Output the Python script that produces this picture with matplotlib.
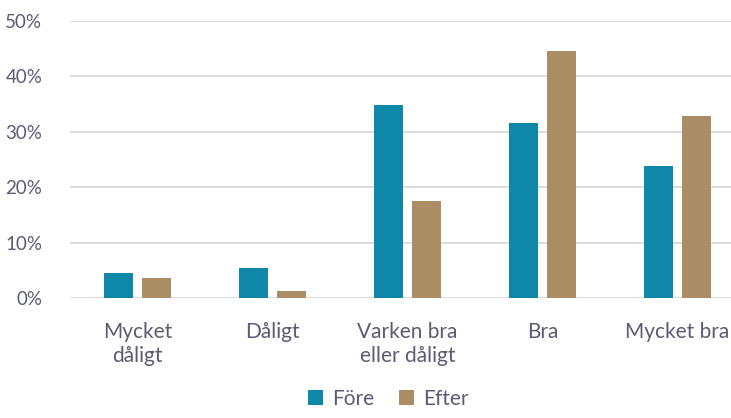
import numpy as np
import matplotlib
matplotlib.use('Agg')
from matplotlib import pyplot as plt
from matplotlib.ticker import PercentFormatter

# data
categories = ['Mycket\ndåligt', 'Dåligt', 'Varken bra\neller dåligt', 'Bra', 'Mycket bra']
fore = [4.6, 5.5, 34.9, 31.5, 23.8]
efter = [3.6, 1.2, 17.5, 44.5, 32.9]
series_names = ['Före', 'Efter']

colFore = '#0e87a8'
colEfter = '#ab8d65'
txtCol = '#5b5b73'

plt.rcParams['font.family'] = ['Lato', 'DejaVu Sans']

fig = plt.figure(figsize=(7.31, 4.18), dpi=100)
ax = fig.add_axes([70 / 731, 120 / 418, 675 / 731, 277 / 418])

x = np.arange(len(categories))
w = 0.22
off = 0.14
ax.bar(x - off, np.array(fore) / 100, w, color=colFore, label=series_names[0], zorder=3)
ax.bar(x + off, np.array(efter) / 100, w, color=colEfter, label=series_names[1], zorder=3)

ax.set_xlim(-0.5, len(categories) - 0.5)
ax.set_ylim(0, 0.5)
ax.set_yticks(np.arange(0, 0.51, 0.1))
ax.yaxis.set_major_formatter(PercentFormatter(1.0, decimals=0))
ax.grid(axis='y', color='#d9d9d9', linewidth=1.3, zorder=0)
ax.set_axisbelow(True)

ax.set_xticks(x)
ax.set_xticklabels(categories, fontsize=15, color=txtCol, linespacing=1.25)
ax.tick_params(axis='y', labelsize=13.5, colors=txtCol, length=0, pad=20)
ax.tick_params(axis='x', length=0, pad=17)
for s in ax.spines.values():
    s.set_visible(False)

# legend at bottom center
ax.legend(loc='lower center', bbox_to_anchor=((388 - 70) / 675, -121 / 277), ncol=2, frameon=False,
          fontsize=15, labelcolor=txtCol, handlelength=0.75, handleheight=0.75,
          handletextpad=0.4, columnspacing=1.2, borderpad=0.0, bbox_transform=ax.transAxes)

fig.savefig('out.png', dpi=100)
